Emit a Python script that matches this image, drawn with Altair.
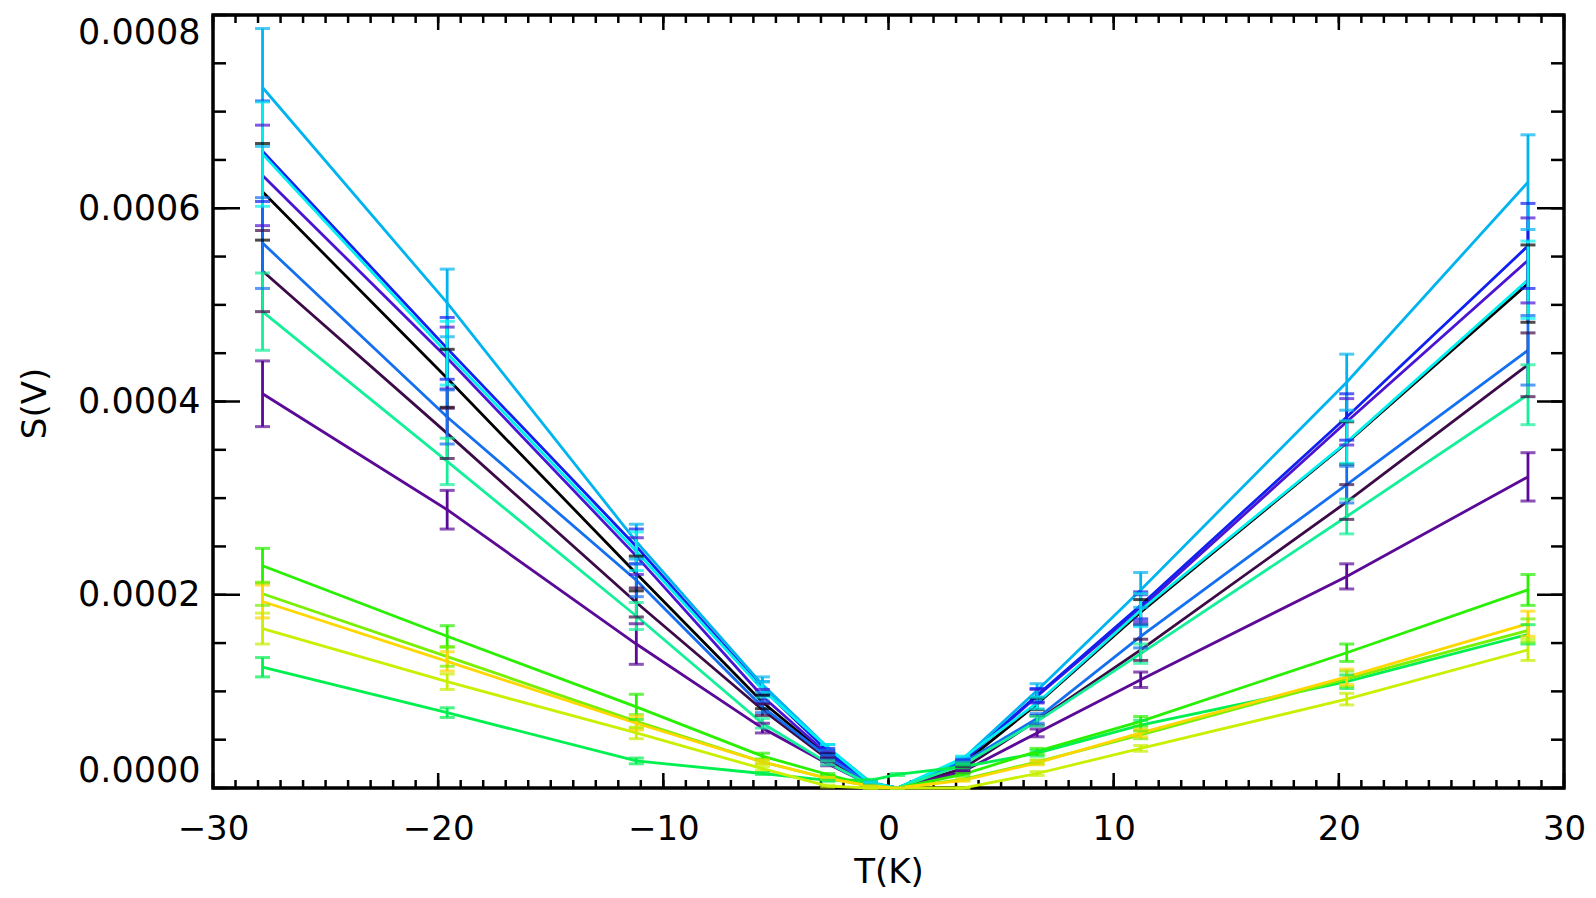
import altair as alt
import pandas as pd

# Temperature points (K)
T = [-27.8, -19.6, -11.2, -5.6, -2.7, -0.8, 0.4, 3.3, 6.6, 11.2, 20.35, 28.4]

# Series values in micro-volts and their error bars
series_names = ["s01", "s02", "s03", "s04", "s05", "s06", "s07",
                "s08", "s09", "s10", "s11", "s12", "s13", "s14"]
colors = ["#000000", "#3c0a46", "#5a0a96", "#4b14d2", "#1020f0", "#1470f0", "#00b4f0",
          "#00f0f0", "#14f09a", "#00f050", "#28f000", "#78f000", "#c8f000", "#ffd700"]

v01 = [617, 424, 222, 89, 33, 4, 0, 25, 87, 182, 357, 522]
e01 = [50, 30, 18, 7, 3, 1, 0, 2, 6, 13, 22, 40]
v02 = [535, 367, 192, 81, 30, 4, 0, 20, 70, 143, 296, 438]
e02 = [42, 26, 15, 6, 2, 1, 0, 2, 5, 11, 18, 33]
v03 = [408, 288, 149, 62, 25, 3, 0, 17, 57, 112, 219, 322]
e03 = [34, 20, 21, 5, 2, 1, 0, 1, 4, 8, 13, 25]
v04 = [634, 445, 240, 95, 35, 4, 0, 27, 95, 186, 379, 546]
e04 = [52, 32, 19, 7, 3, 1, 0, 2, 7, 14, 24, 44]
v05 = [659, 455, 250, 103, 38, 5, 0, 28, 96, 189, 384, 561]
e05 = [52, 32, 18, 7, 3, 1, 0, 2, 7, 14, 24, 44]
v06 = [564, 384, 215, 84, 32, 4, 0, 26, 72, 157, 314, 453]
e06 = [47, 28, 17, 6, 2, 1, 0, 2, 5, 12, 19, 36]
v07 = [725, 502, 255, 107, 42, 6, 0, 30, 101, 205, 420, 627]
e07 = [61, 35, 18, 8, 3, 1, 0, 2, 7, 18, 29, 49]
v08 = [656, 450, 245, 102, 42, 5, 0, 31, 88, 184, 358, 526]
e08 = [54, 33, 20, 8, 3, 1, 0, 2, 6, 17, 22, 40]
v09 = [493, 338, 178, 67, 26, 3, 0, 24, 69, 139, 281, 407]
e09 = [40, 24, 14, 5, 2, 1, 0, 2, 5, 10, 18, 31]
v10 = [125, 78, 28, 15, 8, 8, 14, 22, 36, 65, 110, 159]
e10 = [10, 5, 3, 1, 1, 1, 1, 2, 3, 5, 7, 10]
v11 = [230, 157, 84, 33, 14, 2, 0, 14, 38, 69, 140, 205]
e11 = [18, 11, 13, 3, 1, 0, 0, 1, 3, 5, 9, 16]
v12 = [201, 136, 69, 27, 10, 2, 0, 9, 27, 55, 113, 163]
e12 = [12, 10, 7, 2, 1, 0, 0, 1, 2, 4, 8, 12]
v13 = [165, 110, 57, 20, 2, 0, 0, 0, 15, 41, 92, 143]
e13 = [16, 8, 6, 2, 1, 0, 0, 0, 2, 3, 6, 11]
v14 = [193, 131, 67, 27, 10, 2, 0, 8, 26, 57, 115, 170]
e14 = [17, 10, 7, 2, 1, 0, 0, 1, 2, 4, 8, 13]

values = [v01, v02, v03, v04, v05, v06, v07, v08, v09, v10, v11, v12, v13, v14]
errors = [e01, e02, e03, e04, e05, e06, e07, e08, e09, e10, e11, e12, e13, e14]

# Axis tick values
x_major = [-30, -20, -10, 0, 10, 20, 30]
x_minor = list(range(-30, 31))
y_major = [0.0, 0.0002, 0.0004, 0.0006, 0.0008]
y_minor = [i * 0.00005 for i in range(17)]

rows = []
for name, vals, errs in zip(series_names, values, errors):
    for t, v, e in zip(T, vals, errs):
        rows.append({"series": name, "T": t, "S": v * 1e-6,
                     "lo": (v - e) * 1e-6, "hi": (v + e) * 1e-6})
df = pd.DataFrame(rows)

W, H = 1351, 773
FONT = "DejaVu Sans"
FS = 34

xscale = alt.Scale(domain=[-30, 30], nice=False, zero=False)
yscale = alt.Scale(domain=[0, 0.0008], nice=False, zero=False)

xaxis = alt.Axis(values=x_major, format="d", ticks=False, tickSize=0, domain=False, grid=False,
                 labelFont=FONT, labelFontSize=FS, labelColor="black", labelPadding=24,
                 labelFlush=False,
                 title="T(K)", titleFont=FONT, titleFontSize=FS, titleFontWeight="normal",
                 titleColor="black", titleX=W / 2, titleY=94, titleBaseline="alphabetic")
yaxis = alt.Axis(values=y_major, format=".4f", ticks=False, tickSize=0, domain=False, grid=False,
                 labelFont=FONT, labelFontSize=35, labelColor="black", labelPadding=13,
                 labelFlush=True,
                 title="S(V)", titleFont=FONT, titleFontSize=FS, titleFontWeight="normal",
                 titleColor="black", titleX=-168, titleY=388, titleBaseline="alphabetic",
                 titleAngle=270)


def X(field):
    return alt.X(field, type="quantitative", scale=xscale, axis=xaxis)


def Y(field):
    return alt.Y(field, type="quantitative", scale=yscale, axis=yaxis)


color = alt.Color("series:N", scale=alt.Scale(domain=series_names, range=colors), legend=None)

base = alt.Chart(df)

LW = 2.8
lines = base.mark_line(strokeWidth=LW).encode(x=X("T"), y=Y("S"), color=color)
bars = base.mark_rule(strokeWidth=LW).encode(x=X("T"), y=Y("lo"), y2="hi", color=color)
cap_lo = base.mark_tick(orient="horizontal", size=15, thickness=3).encode(
    x=X("T"), y=Y("lo"), color=color)
cap_hi = base.mark_tick(orient="horizontal", size=15, thickness=3).encode(
    x=X("T"), y=Y("hi"), color=color)

dfx_maj = pd.DataFrame({"xv": x_major})
dfx_min = pd.DataFrame({"xv": x_minor})
dfy_maj = pd.DataFrame({"yv": y_major})
dfy_min = pd.DataFrame({"yv": y_minor})

tick_style = dict(color="black", strokeWidth=2.5)

xt_bot_maj = alt.Chart(dfx_maj).mark_rule(**tick_style).encode(
    x=X("xv"), y=alt.value(H), y2=alt.value(H - 15))
xt_top_maj = alt.Chart(dfx_maj).mark_rule(**tick_style).encode(
    x=X("xv"), y=alt.value(0), y2=alt.value(15))
xt_bot_min = alt.Chart(dfx_min).mark_rule(**tick_style).encode(
    x=X("xv"), y=alt.value(H), y2=alt.value(H - 8))
xt_top_min = alt.Chart(dfx_min).mark_rule(**tick_style).encode(
    x=X("xv"), y=alt.value(0), y2=alt.value(8))
yt_l_maj = alt.Chart(dfy_maj).mark_rule(**tick_style).encode(
    y=Y("yv"), x=alt.value(0), x2=alt.value(27))
yt_r_maj = alt.Chart(dfy_maj).mark_rule(**tick_style).encode(
    y=Y("yv"), x=alt.value(W), x2=alt.value(W - 27))
yt_l_min = alt.Chart(dfy_min).mark_rule(**tick_style).encode(
    y=Y("yv"), x=alt.value(0), x2=alt.value(13))
yt_r_min = alt.Chart(dfy_min).mark_rule(**tick_style).encode(
    y=Y("yv"), x=alt.value(W), x2=alt.value(W - 13))

chart = alt.layer(
    xt_bot_min, xt_top_min, xt_bot_maj, xt_top_maj,
    yt_l_min, yt_r_min, yt_l_maj, yt_r_maj,
    lines, bars, cap_lo, cap_hi,
).properties(
    width=W, height=H,
    autosize=alt.AutoSizeParams(type="none"),
    padding={"left": 205, "top": 7, "right": 22, "bottom": 102},
    background="white",
).configure_view(
    stroke="black", strokeWidth=3.5
)

chart.save("out.html", embed_options={"renderer": "svg", "actions": False})
